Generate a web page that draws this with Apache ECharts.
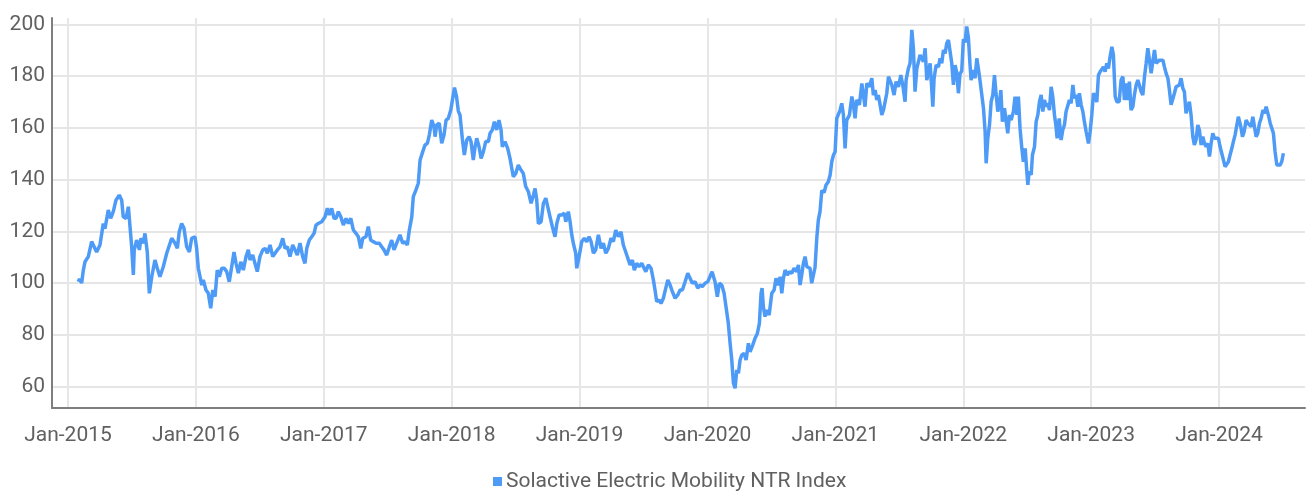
<!DOCTYPE html>
<html><head><meta charset="utf-8">
<script src="https://cdn.jsdelivr.net/npm/echarts@6/dist/echarts.min.js"></script>
<style>html,body{margin:0;padding:0;background:#fff}#c{width:1306px;height:493px}</style>
</head><body><div id="c"></div><script>
const seriesName = 'Solactive Electric Mobility NTR Index';
const yearTicks = [2015, 2016, 2017, 2018, 2019, 2020, 2021, 2022, 2023, 2024];
const valueTicks = [60, 80, 100, 120, 140, 160, 180, 200];

// time as decimal years
const dates = [
2015.080,2015.090,2015.107,2015.120,2015.133,2015.159,2015.185,2015.198,2015.224,2015.250,2015.264,2015.276,2015.289,2015.315,2015.334,2015.354,2015.375,2015.401,2015.420,2015.432,2015.454,2015.472,2015.485,2015.498,2015.511,2015.518,2015.537,2015.558,2015.571,2015.589,2015.602,2015.620,2015.636,2015.655,2015.680,2015.698,2015.719,2015.745,2015.772,2015.811,2015.837,2015.855,2015.870,2015.889,2015.907,2015.928,2015.949,2015.967,2015.993,
2016.006,2016.019,2016.032,2016.046,2016.058,2016.079,2016.097,2016.116,2016.132,2016.150,2016.167,2016.183,2016.202,2016.222,2016.241,2016.261,2016.280,2016.298,2016.314,2016.332,2016.351,2016.371,2016.392,2016.410,2016.423,2016.444,2016.462,2016.480,2016.501,2016.523,2016.541,2016.559,2016.580,2016.601,2016.619,2016.637,2016.658,2016.679,2016.697,2016.715,2016.736,2016.757,2016.775,2016.793,2016.814,2016.835,2016.853,2016.867,2016.887,2016.906,2016.924,2016.939,2016.957,2016.984,
2017.010,2017.028,2017.043,2017.062,2017.080,2017.096,2017.114,2017.133,2017.153,2017.174,2017.192,2017.211,2017.231,2017.252,2017.270,2017.289,2017.305,2017.330,2017.348,2017.367,2017.387,2017.409,2017.434,2017.453,2017.471,2017.492,2017.513,2017.531,2017.549,2017.570,2017.596,2017.617,2017.635,2017.653,2017.669,2017.688,2017.700,2017.721,2017.739,2017.753,2017.774,2017.792,2017.810,2017.825,2017.844,2017.862,2017.870,2017.883,2017.903,2017.922,2017.940,2017.956,2017.974,2017.993,
2018.008,2018.022,2018.038,2018.052,2018.065,2018.083,2018.099,2018.118,2018.136,2018.151,2018.169,2018.183,2018.196,2018.214,2018.230,2018.248,2018.266,2018.287,2018.300,2018.318,2018.334,2018.352,2018.370,2018.386,2018.396,2018.417,2018.438,2018.456,2018.482,2018.501,2018.521,2018.542,2018.560,2018.579,2018.600,2018.621,2018.639,2018.652,2018.665,2018.678,2018.699,2018.717,2018.736,2018.751,2018.769,2018.787,2018.808,2018.822,2018.840,2018.861,2018.881,2018.892,2018.912,2018.926,2018.939,2018.951,2018.970,2018.978,2018.996,
2019.017,2019.037,2019.056,2019.074,2019.090,2019.108,2019.126,2019.147,2019.168,2019.186,2019.205,2019.225,2019.246,2019.264,2019.283,2019.303,2019.324,2019.342,2019.361,2019.377,2019.395,2019.413,2019.428,2019.447,2019.465,2019.486,2019.499,2019.518,2019.538,2019.559,2019.577,2019.590,2019.603,2019.622,2019.637,2019.655,2019.674,2019.690,2019.708,2019.726,2019.747,2019.768,2019.786,2019.804,2019.825,2019.846,2019.864,2019.882,2019.903,2019.924,2019.942,2019.960,2019.981,
2020.002,2020.020,2020.036,2020.059,2020.077,2020.093,2020.112,2020.130,2020.145,2020.163,2020.177,2020.190,2020.203,2020.216,2020.229,2020.242,2020.255,2020.268,2020.286,2020.302,2020.320,2020.333,2020.354,2020.372,2020.390,2020.406,2020.419,2020.427,2020.437,2020.450,2020.464,2020.482,2020.503,2020.521,2020.536,2020.554,2020.568,2020.581,2020.594,2020.607,2020.625,2020.641,2020.659,2020.677,2020.698,2020.711,2020.724,2020.737,2020.750,2020.763,2020.777,2020.789,2020.802,2020.815,2020.828,2020.841,2020.855,2020.867,2020.880,2020.894,2020.912,2020.927,2020.945,2020.959,2020.972,2020.985,2020.998,
2021.011,2021.024,2021.037,2021.050,2021.063,2021.076,2021.089,2021.110,2021.129,2021.141,2021.154,2021.167,2021.188,2021.207,2021.219,2021.232,2021.246,2021.266,2021.285,2021.297,2021.311,2021.324,2021.336,2021.350,2021.363,2021.376,2021.389,2021.402,2021.415,2021.428,2021.441,2021.459,2021.475,2021.493,2021.512,2021.527,2021.545,2021.553,2021.571,2021.584,2021.598,2021.610,2021.623,2021.637,2021.649,2021.662,2021.676,2021.688,2021.702,2021.715,2021.728,2021.741,2021.762,2021.772,2021.788,2021.806,2021.819,2021.832,2021.845,2021.858,2021.871,2021.884,2021.897,2021.910,2021.923,2021.936,2021.949,2021.962,2021.975,2021.988,
2022.001,2022.014,2022.027,2022.040,2022.053,2022.061,2022.071,2022.079,2022.092,2022.106,2022.118,2022.132,2022.145,2022.158,2022.171,2022.179,2022.192,2022.205,2022.218,2022.231,2022.244,2022.255,2022.270,2022.281,2022.294,2022.306,2022.322,2022.335,2022.348,2022.361,2022.374,2022.392,2022.405,2022.419,2022.431,2022.444,2022.458,2022.470,2022.484,2022.497,2022.505,2022.515,2022.531,2022.541,2022.557,2022.570,2022.583,2022.596,2022.609,2022.622,2022.635,2022.648,2022.661,2022.674,2022.687,2022.700,2022.713,2022.724,2022.734,2022.750,2022.765,2022.778,2022.791,2022.804,2022.817,2022.830,2022.843,2022.857,2022.869,2022.883,2022.896,2022.908,2022.922,2022.935,2022.947,2022.961,2022.979,2022.992,
2023.005,2023.018,2023.031,2023.044,2023.057,2023.070,2023.083,2023.096,2023.109,2023.122,2023.135,2023.148,2023.162,2023.174,2023.188,2023.201,2023.219,2023.234,2023.248,2023.260,2023.274,2023.287,2023.299,2023.312,2023.326,2023.338,2023.352,2023.365,2023.377,2023.391,2023.404,2023.417,2023.430,2023.443,2023.456,2023.469,2023.482,2023.495,2023.508,2023.521,2023.534,2023.547,2023.561,2023.573,2023.586,2023.600,2023.612,2023.625,2023.639,2023.651,2023.664,2023.678,2023.690,2023.703,2023.717,2023.729,2023.742,2023.756,2023.768,2023.781,2023.795,2023.807,2023.820,2023.834,2023.846,2023.860,2023.873,2023.886,2023.899,2023.912,2023.925,2023.938,2023.951,2023.964,2023.977,2023.995,
2024.008,2024.021,2024.034,2024.047,2024.060,2024.073,2024.086,2024.100,2024.112,2024.125,2024.139,2024.151,2024.159,2024.170,2024.183,2024.196,2024.212,2024.225,2024.238,2024.251,2024.264,2024.277,2024.290,2024.303,2024.316,2024.329,2024.343,2024.355,2024.368,2024.378,2024.389,2024.400,2024.413,2024.425,2024.438,2024.452,2024.464,2024.477,2024.490,2024.503
];

const values = [
100.5,101.5,100,105,108.2,110.2,116,116.6,112,114.7,119.2,123,121,128.2,125,127.6,132,134,132,125.6,125,129.5,121.8,114,103.1,112.8,116.6,112.8,117.3,115.4,119.2,112,96,102.4,108.9,105.7,102.4,106.3,111.5,117.3,115.4,113.4,119.8,123,121.2,114,112,117.3,117.9,
113.4,105.7,105,99.2,101.2,97.3,96,90.2,97.3,94.7,105,102.4,105.7,105.7,104.4,100.5,106.3,112,107.6,103.8,108.2,105,110.2,112.8,108.9,110.8,107.6,104.4,110.2,112.8,113.4,111.5,114.7,110.2,111.5,112.8,114,117.3,113.4,114,110.2,114.7,112.8,110.8,115.4,110.2,107.6,113.4,116.6,117.9,119.2,122.4,123,123.7,
125.6,128.9,126.3,128.9,125,125,127.6,125.6,122.4,125,123,125,120.5,119.2,117.9,113.4,117.3,117.9,121.8,116.6,116,115.4,115.4,114,112.8,110.8,114,116.6,112.8,115.4,118.6,115.4,116,114.7,120.5,125.6,133.4,136,138.6,147.6,150.8,153.4,154,157.2,163,160.5,156.6,161.1,161.8,154,157.2,163,163.7,166.9,
171.4,175.6,172.1,166.5,165,156,149.5,155.3,156.6,154.7,147.6,152.7,156,152.7,148.2,150.8,154.7,154.7,157.9,159.2,162.4,159.2,163,159.2,152.7,154.7,152.1,148.2,141.1,142.4,145.6,143.7,142.4,137.3,135.3,130.8,134,136.6,132.1,123,123.7,130.8,132.8,129.5,125.6,121.8,117.9,123,126.3,126.3,127,123.7,127.6,123.7,118.6,115.4,111.5,105.7,110.2,
116,117.3,116,117.9,116,111.5,112.8,118.6,113.4,115.4,111.5,113.4,117.3,116,120.5,117.9,119.8,114.7,112,109.6,107,108.9,105,107.6,106.3,107.6,108.2,104.4,107,105.7,101.2,97.3,92.8,93.4,92.1,94.1,98,101.2,99.2,96.6,94.1,95.4,97.3,97.3,100.5,103.8,101.8,99.9,100.5,98,99.2,98.6,99.9,
100.5,102.5,104.4,100.5,94.7,99.9,99.2,96,90.8,84.4,76.7,70.2,61.2,59.3,66.4,65.1,70.2,72.1,72.8,70.2,76.7,73.4,76,78.6,80.5,84.4,96,98,90.8,87,89.6,87.6,96,97.3,101.8,99.2,102.4,96,101.8,105,103.1,104.4,103.8,105.7,104.4,107,99.2,103.1,107.6,110.2,106.3,107,105.7,99.9,100.5,106,117.5,124.4,127.6,135.8,135,137.9,139.2,141.8,146.9,149.5,150.8,
163.7,163,166.9,169.5,165,152.1,163,165,172.1,168.9,163.7,170.8,168.9,177.2,172.7,168.2,177.2,175.9,179.2,172.7,174.6,170.8,172.7,168.9,165,166.9,166.9,173.4,179.8,179.2,176.6,172.7,177.9,175.9,180.4,176.6,170.1,178.5,183,185,197.9,190.8,174,183,182.3,188.2,186.9,185.6,190.8,178.5,177.9,185,168.2,179.2,184.3,183.6,186.9,185,190.1,188.8,192.7,194,189.5,185,176.6,184.3,181.5,173.4,181,182,
194.3,193,199.2,195,184.3,178.5,177.9,182.3,179.2,186.9,183,177.9,172.7,167.6,158.5,146.3,156,161.1,170.1,172.7,180.4,174,166.3,168.9,174.6,162.4,167.6,168.2,157.9,165,163,166.3,172.1,165,172.1,159.8,152.1,146.9,152.1,143.1,138,143.1,141.8,149.5,152.7,162.4,165,170.1,172.7,166.3,170.8,168.2,169.5,166.9,175.9,172.1,165,161.1,156,163.7,155.3,159.2,161.1,166.3,165.6,170.8,169.5,176.6,171.4,172.7,168.2,173.4,168.9,166.3,162.4,158.5,154,158.5,
165,173.4,172.1,170,180.4,181.7,181.1,183.6,181.7,185,183,187.5,191.4,188.2,172.1,170.1,170.1,178.5,179.8,170.8,177.2,170.8,177.9,166.9,168.2,172.7,176.6,178.5,176.6,174,172.7,179.8,185,190.8,186.2,181.1,185.6,190.1,185,184.3,186.2,185.6,186.2,183.6,181.1,179.2,174.6,168.9,168.9,173.4,175.9,175.3,176.6,179.2,175.3,174,165.6,168.2,170.1,165,156.6,153.4,155.3,161.1,159.2,153.4,156.6,154,152.7,154,148.9,154,157.9,156,155.3,156,
152.7,150.2,147.6,145,145.6,146.9,149.5,152.1,154.7,157.2,157.9,164.3,165,160.5,156.6,158.5,163,161.8,162.4,160.5,164.3,165,156.6,157.9,161.8,163.7,166.9,165.6,168.2,168.9,164.3,161.8,159.8,157.9,150.8,145.6,145,145.6,146.9,150.2
];

const seriesData = dates.map((d, i) => [d, values[i]]);
const txt = '#606060';
const fontFamily = 'Roboto, "Noto Sans", sans-serif';

const chart = echarts.init(document.getElementById('c'), null, {renderer: 'canvas'});
chart.setOption({
  animation: false,
  backgroundColor: '#ffffff',
  textStyle: {fontFamily: fontFamily},
  grid: {left: 52, right: 1, top: 18, bottom: 85, containLabel: false},
  legend: {
    show: true,
    left: 488, top: 466,
    icon: 'rect', itemWidth: 9, itemHeight: 9, itemGap: 10,
    textStyle: {color: txt, fontSize: 21, fontFamily: fontFamily, padding: [0, 0, 0, -1]},
    data: [seriesName]
  },
  xAxis: {
    type: 'value',
    min: 2014.875, max: 2024.672,
    axisLine: {show: true, lineStyle: {color: '#7f7f7f', width: 2}},
    axisTick: {show: false, customValues: yearTicks},
    axisLabel: {
      customValues: yearTicks,
      formatter: v => 'Jan-' + Math.round(v),
      color: txt, fontSize: 21, margin: 17, fontFamily: fontFamily
    },
    splitLine: {show: true, lineStyle: {color: '#e6e6e6', width: 2}}
  },
  yAxis: {
    type: 'value',
    min: 51.65, max: 202.5,
    axisLine: {show: true, lineStyle: {color: '#7f7f7f', width: 2}},
    axisTick: {show: false, customValues: valueTicks},
    axisLabel: {
      customValues: valueTicks,
      color: txt, fontSize: 21, margin: 7, fontFamily: fontFamily,
      padding: [4, 0, 0, 0]
    },
    splitLine: {show: true, lineStyle: {color: '#e6e6e6', width: 2}}
  },
  series: [{
    name: seriesName,
    type: 'line',
    data: seriesData,
    showSymbol: false,
    symbol: 'none',
    color: '#4d9bf7',
    lineStyle: {color: '#4d9bf7', width: 3.5},
    z: 3
  }]
});
</script></body></html>
